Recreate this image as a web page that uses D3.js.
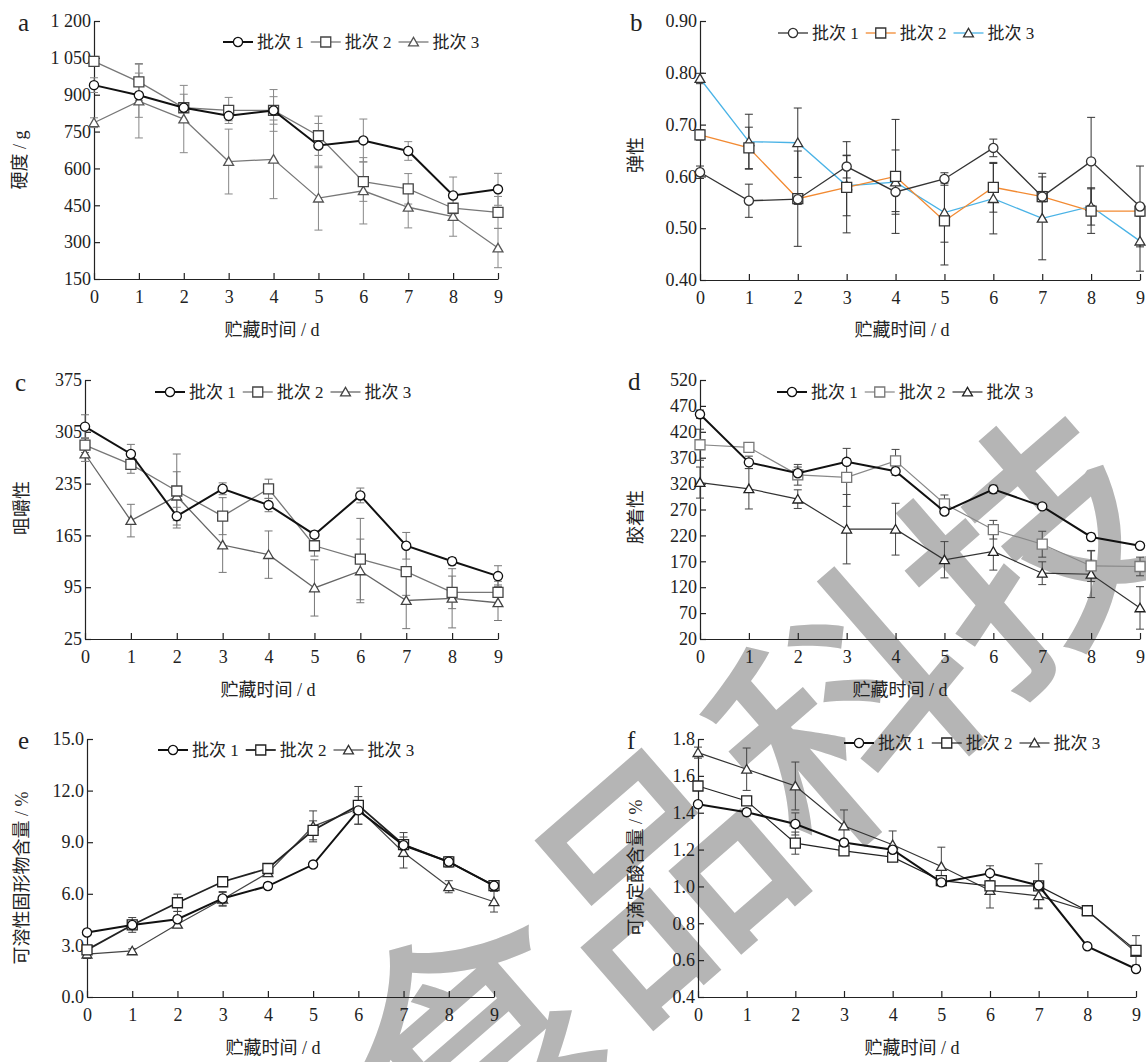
<!DOCTYPE html>
<meta charset="utf-8">
<style>
  body { margin: 0; background: #fff; }
  svg text { font-family: "Liberation Serif", "Noto Sans CJK SC", serif; fill: #222; }
  .axis path, .axis line { stroke: #222; stroke-width: 1.2; }
  .axis text { font-size: 18px; }
</style>
<body>
<svg id="chart" width="1146" height="1062"></svg>
<script src="https://cdn.jsdelivr.net/npm/d3@7/dist/d3.min.js"></script>
<script>
// storage days
var days = [0, 1, 2, 3, 4, 5, 6, 7, 8, 9];
var batchNames = ["批次 1", "批次 2", "批次 3"];

// a - hardness (g)
var hard1 = [939, 898, 847, 814, 836, 693, 714, 671, 490, 515];
var hard2 = [1036, 952, 847, 836, 836, 733, 546, 517, 438, 421];
var hard3 = [786, 874, 801, 628, 637, 479, 509, 442, 404, 276];
var hard1Err = [30, 90, 20, 20, 56, 90, 87, 38, 75, 65];
var hard2Err = [20, 75, 55, 53, 85, 80, 80, 62, 20, 65];
var hard3Err = [20, 150, 137, 132, 160, 130, 135, 84, 80, 80];
var hardTicks = [150, 300, 450, 600, 750, 900, 1050, 1200];

// b - springiness
var spr1 = [0.608, 0.553, 0.556, 0.619, 0.570, 0.595, 0.655, 0.561, 0.629, 0.542];
var spr2 = [0.680, 0.655, 0.557, 0.579, 0.600, 0.514, 0.579, 0.561, 0.533, 0.533];
var spr3 = [0.789, 0.667, 0.665, 0.582, 0.589, 0.530, 0.557, 0.519, 0.542, 0.475];
var spr1Err = [0.012, 0.032, 0.010, 0.022, 0.038, 0.012, 0.017, 0.045, 0.085, 0.078];
var spr2Err = [0.010, 0.040, 0.092, 0.088, 0.110, 0.085, 0.048, 0.010, 0.043, 0.010];
var spr3Err = [0.010, 0.053, 0.067, 0.058, 0.062, 0.057, 0.068, 0.080, 0.036, 0.058];
var sprTicks = [0.40, 0.50, 0.60, 0.70, 0.80, 0.90];

// c - chewiness
var chew1 = [312, 275, 191, 228, 206, 166, 219, 151, 130, 110];
var chew2 = [287, 261, 225, 191, 228, 151, 133, 116, 88, 88];
var chew3 = [275, 185, 218, 152, 139, 94, 117, 77, 80, 74];
var chew1Err = [16, 13, 12, 8, 9, 5, 10, 18, 5, 14];
var chew2Err = [10, 12, 50, 25, 13, 14, 55, 32, 22, 15];
var chew3Err = [10, 22, 33, 37, 32, 38, 43, 38, 40, 24];
var chewTicks = [25, 95, 165, 235, 305, 375];

// d - gumminess
var gum1 = [454, 361, 340, 362, 344, 266, 309, 276, 217, 200];
var gum2 = [395, 390, 337, 332, 364, 281, 231, 203, 161, 160];
var gum3 = [322, 310, 290, 232, 232, 173, 189, 147, 145, 80];
var gum1Err = [8, 12, 12, 6, 8, 5, 8, 5, 7, 5];
var gum2Err = [30, 9, 20, 56, 22, 17, 18, 25, 30, 18];
var gum3Err = [30, 39, 18, 67, 50, 35, 36, 22, 45, 41];
var gumTicks = [20, 70, 120, 170, 220, 270, 320, 370, 420, 470, 520];

// e - soluble solids (%)
var tss1 = [3.75, 4.19, 4.52, 5.73, 6.45, 7.70, 10.85, 8.82, 7.86, 6.47];
var tss2 = [2.74, 4.19, 5.48, 6.70, 7.47, 9.69, 11.14, 8.86, 7.86, 6.47];
var tss3 = [2.49, 2.68, 4.23, 5.68, 7.22, 9.92, 10.95, 8.40, 6.41, 5.54];
var tss1Err = [0.15, 0.15, 0.45, 0.40, 0.20, 0.15, 0.80, 0.20, 0.20, 0.20];
var tss2Err = [0.25, 0.43, 0.50, 0.25, 0.20, 0.55, 1.10, 0.70, 0.30, 0.20];
var tss3Err = [0.25, 0.12, 0.20, 0.40, 0.20, 0.90, 0.20, 0.90, 0.35, 0.60];
var tssTicks = [0, 3, 6, 9, 12, 15];

// f - titratable acidity (%)
var acid1 = [1.446, 1.403, 1.339, 1.238, 1.199, 1.022, 1.072, 1.005, 0.675, 0.552];
var acid2 = [1.545, 1.464, 1.235, 1.193, 1.159, 1.031, 1.003, 1.003, 0.868, 0.653];
var acid3 = [1.726, 1.636, 1.545, 1.328, 1.226, 1.108, 0.978, 0.949, 0.868, 0.642];
var acid1Err = [0.01, 0.02, 0.06, 0.01, 0.01, 0.01, 0.04, 0.01, 0.01, 0.01];
var acid2Err = [0.01, 0.02, 0.06, 0.01, 0.01, 0.01, 0.01, 0.12, 0.01, 0.08];
var acid3Err = [0.03, 0.115, 0.13, 0.087, 0.075, 0.105, 0.095, 0.07, 0.02, 0.02];
var acidTicks = [0.4, 0.6, 0.8, 1.0, 1.2, 1.4, 1.6, 1.8];

var svg = d3.select("#chart");

// watermark behind everything
svg.append("text")
  .attr("transform", "translate(742,782) rotate(-41)")
  .attr("text-anchor", "middle")
  .attr("dominant-baseline", "central")
  .style("font-family", "'Noto Sans CJK SC'")
  .style("font-weight", "500")
  .style("font-size", "250px")
  .style("fill", "#b5b5b5")
  .text("食品科技");

function spaceThousands(v) {
  return v >= 1000 ? Math.floor(v / 1000) + " " + d3.format("03d")(v % 1000) : String(v);
}

var panels = [
  { letter: "a", lx: 18, ly: 22, x0: 94, x1: 498, yTop: 21, yBot: 279,
    ticks: hardTicks, fmt: spaceThousands, ytitle: "硬度 / g", ytx: 20, yty: 160,
    xtx: 272, xty: 330, legX: 223, legY: 42,
    series: [hard1, hard2, hard3], errs: [hard1Err, hard2Err, hard3Err],
    colors: ["#111", "#777", "#777"], widths: [2, 1.3, 1.3], marks: ["#111", "#444", "#555"], errColor: "#888" },
  { letter: "b", lx: 630, ly: 22, x0: 700, x1: 1140, yTop: 21, yBot: 280,
    ticks: sprTicks, fmt: d3.format(".2f"), ytitle: "弹性", ytx: 636, yty: 155,
    xtx: 902, xty: 330, legX: 778, legY: 33,
    series: [spr1, spr2, spr3], errs: [spr1Err, spr2Err, spr3Err],
    colors: ["#333", "#f28a32", "#4ab3e6"], widths: [1.3, 1.3, 1.3], marks: ["#333", "#333", "#333"], errColor: "#333" },
  { letter: "c", lx: 15, ly: 382, x0: 85, x1: 498, yTop: 380, yBot: 639,
    ticks: chewTicks, fmt: d3.format("d"), ytitle: "咀嚼性", ytx: 22, yty: 508,
    xtx: 268, xty: 690, legX: 155, legY: 392,
    series: [chew1, chew2, chew3], errs: [chew1Err, chew2Err, chew3Err],
    colors: ["#111", "#777", "#666"], widths: [2, 1.3, 1.3], marks: ["#111", "#444", "#444"], errColor: "#777" },
  { letter: "d", lx: 628, ly: 381, x0: 700, x1: 1140, yTop: 380, yBot: 639,
    ticks: gumTicks, fmt: d3.format("d"), ytitle: "胶着性", ytx: 636, yty: 517,
    xtx: 900, xty: 690, legX: 777, legY: 392,
    series: [gum1, gum2, gum3], errs: [gum1Err, gum2Err, gum3Err],
    colors: ["#111", "#888", "#333"], widths: [2, 1.2, 1.2], marks: ["#111", "#777", "#222"], errColor: "#444" },
  { letter: "e", lx: 18, ly: 740, x0: 87, x1: 494, yTop: 739, yBot: 997,
    ticks: tssTicks, fmt: d3.format(".1f"), ytitle: "可溶性固形物含量 / %", ytx: 22, yty: 878,
    xtx: 273, xty: 1048, legX: 158, legY: 750,
    series: [tss1, tss2, tss3], errs: [tss1Err, tss2Err, tss3Err],
    colors: ["#111", "#222", "#444"], widths: [2, 1.8, 1.2], marks: ["#111", "#222", "#333"], errColor: "#444" },
  { letter: "f", lx: 627, ly: 740, x0: 698, x1: 1136, yTop: 739, yBot: 997,
    ticks: acidTicks, fmt: d3.format(".1f"), ytitle: "可滴定酸含量 / %", ytx: 636, yty: 868,
    xtx: 912, xty: 1048, legX: 844, legY: 743,
    series: [acid1, acid2, acid3], errs: [acid1Err, acid2Err, acid3Err],
    colors: ["#111", "#222", "#333"], widths: [2, 1.2, 1.2], marks: ["#111", "#222", "#333"], errColor: "#444" }
];

var symbols = [d3.symbolCircle, d3.symbolSquare, d3.symbolTriangle];
var symSizes = [66, 100, 42];

function drawMarker(g, i, cx, cy, color) {
  g.append("path")
    .attr("d", d3.symbol().type(symbols[i]).size(symSizes[i])())
    .attr("transform", "translate(" + cx + "," + (i == 2 ? cy + 1 : cy) + ")")
    .attr("fill", "#fff")
    .attr("stroke", color)
    .attr("stroke-width", 1.3);
}

panels.forEach(function(p) {
  var g = svg.append("g");
  var x = d3.scaleLinear().domain([0, 9]).range([p.x0, p.x1]);
  var y = d3.scaleLinear().domain([p.ticks[0], p.ticks[p.ticks.length - 1]]).range([p.yBot, p.yTop]);

  // axes with inward ticks
  g.append("g").attr("class", "axis")
    .attr("transform", "translate(" + p.x0 + ",0)")
    .call(d3.axisLeft(y).tickValues(p.ticks).tickFormat(p.fmt).tickSizeInner(-6).tickSizeOuter(0).tickPadding(3));
  g.append("g").attr("class", "axis")
    .attr("transform", "translate(0," + p.yBot + ")")
    .call(d3.axisBottom(x).tickValues(days).tickFormat(d3.format("d")).tickSizeInner(-6).tickSizeOuter(0).tickPadding(8))
    .call(function(a) { a.selectAll("text").attr("dy", "0.9em"); });

  // error bars
  p.series.forEach(function(s, si) {
    var eb = g.append("g").attr("stroke", p.errColor).attr("stroke-width", 1);
    s.forEach(function(v, k) {
      var e = p.errs[si][k];
      var xx = x(days[k]);
      eb.append("line").attr("x1", xx).attr("x2", xx).attr("y1", y(v - e)).attr("y2", y(v + e));
      eb.append("line").attr("x1", xx - 4).attr("x2", xx + 4).attr("y1", y(v - e)).attr("y2", y(v - e));
      eb.append("line").attr("x1", xx - 4).attr("x2", xx + 4).attr("y1", y(v + e)).attr("y2", y(v + e));
    });
  });

  // lines, drawn from last batch to first so batch 1 sits on top
  var line = d3.line().x(function(d, k) { return x(days[k]); }).y(function(d) { return y(d); });
  [2, 1, 0].forEach(function(si) {
    g.append("path").datum(p.series[si])
      .attr("d", line).attr("fill", "none")
      .attr("stroke", p.colors[si]).attr("stroke-width", p.widths[si]);
    p.series[si].forEach(function(v, k) {
      drawMarker(g, si, x(days[k]), y(v), p.marks[si]);
    });
  });

  // legend
  var lx = p.legX;
  batchNames.forEach(function(name, si) {
    g.append("line").attr("x1", lx).attr("x2", lx + 30).attr("y1", p.legY).attr("y2", p.legY)
      .attr("stroke", p.colors[si]).attr("stroke-width", p.widths[si]);
    drawMarker(g, si, lx + 15, p.legY, p.marks[si]);
    var t = g.append("text").attr("x", lx + 34).attr("y", p.legY)
      .attr("dominant-baseline", "central").style("font-size", "17px").text(name);
    lx += 34 + t.node().getComputedTextLength() + 7;
  });

  // titles
  g.append("text").attr("x", p.lx).attr("y", p.ly).attr("dominant-baseline", "central")
    .style("font-size", "25px").text(p.letter);
  g.append("text").attr("transform", "translate(" + p.ytx + "," + p.yty + ") rotate(-90)")
    .attr("text-anchor", "middle").attr("dominant-baseline", "central")
    .style("font-size", "18px").text(p.ytitle);
  g.append("text").attr("x", p.xtx).attr("y", p.xty).attr("text-anchor", "middle")
    .attr("dominant-baseline", "central").style("font-size", "18px").text("贮藏时间 / d");
});
</script>
</body>
